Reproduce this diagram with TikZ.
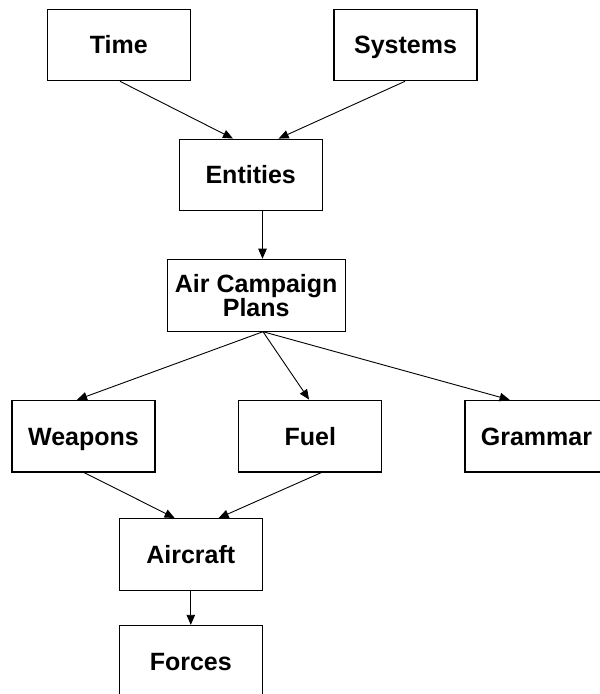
\documentclass[tikz,border=0pt]{standalone}
\usepackage{fontspec}
\setmainfont{Liberation Sans}
\usetikzlibrary{arrows.meta}

\tikzset{
  box/.style={draw, line width=1.1pt, rectangle, inner sep=0pt,
    minimum width=143pt, minimum height=71.5pt,
    font=\fontsize{25}{21}\selectfont\bfseries,
    text height=17.9pt, text depth=0pt},
  widebox/.style={box, minimum width=178pt, text height=, text depth=, align=center},
  link/.style={draw, line width=0.9pt, -{Triangle[length=10pt, width=8.5pt]}, shorten >=0.4pt}
}

\begin{document}
\begin{tikzpicture}[x=1pt, y=-1pt]
  % page frame
  \useasboundingbox (0,0) rectangle (600,694);
  \fill[white] (0,0) rectangle (600,694);
  \clip (0,0) rectangle (600,694);

  % nodes
  \node[box] (time) at (118.7,45) {Time};
  \node[box] (sys)  at (405.5,45) {Systems};
  \node[box] (ent)  at (250.7,175) {Entities};
  \node[widebox] (acp) at (256.2,295.4) {Air Campaign\\Plans};
  \node[box] (weap) at (83.5,436.2) {Weapons};
  \node[box] (fuel) at (310.3,436.2) {Fuel};
  \node[box] (gram) at (536.5,436.2) {Grammar};
  \node[box] (air)  at (190.8,554.5) {Aircraft};
  \node[box] (forc) at (190.8,661.5) {Forces};

  % connectors
  \draw[link] ([xshift=1.3pt]time.south) -- ([xshift=-17.4pt]ent.north);
  \draw[link] ([xshift=-0.5pt]sys.south) -- ([xshift=27.6pt]ent.north);
  \draw[link] ([xshift=11.8pt]ent.south) -- ([xshift=6.3pt]acp.north);
  \draw[link] ([xshift=6.8pt]acp.south) -- ([xshift=-6.8pt]weap.north);
  \draw[link] ([xshift=6.8pt]acp.south) -- ([xshift=-1pt]fuel.north);
  \draw[link] ([xshift=6.8pt]acp.south) -- ([xshift=-26.5pt]gram.north);
  \draw[link] ([xshift=0.5pt]weap.south) -- ([xshift=-15.8pt]air.north);
  \draw[link] ([xshift=11.2pt]fuel.south) -- ([xshift=27.5pt]air.north);
  \draw[link] (air.south) -- (forc.north);
\end{tikzpicture}
\end{document}
